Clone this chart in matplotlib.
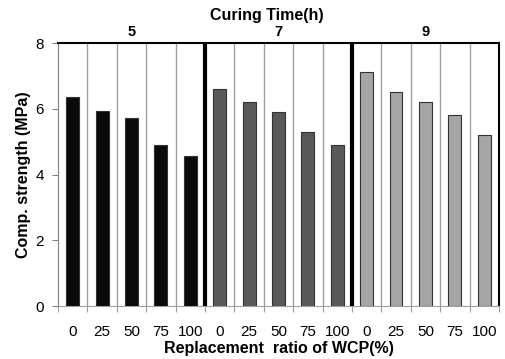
import matplotlib

matplotlib.use("Agg")
import matplotlib.pyplot as plt
import numpy as np

plt.rcParams["font.family"] = ["Liberation Sans", "DejaVu Sans"]

# Curing time groups (h) and replacement ratios of WCP (%)
CURING_TIMES = ["5", "7", "9"]
RATIOS = ["0", "25", "50", "75", "100"]
STRENGTH_5H = [6.37, 5.93, 5.71, 4.89, 4.56]
STRENGTH_7H = [6.60, 6.20, 5.90, 5.29, 4.89]
STRENGTH_9H = [7.11, 6.50, 6.20, 5.80, 5.20]
GROUP_COLORS = ["#0a0a0a", "#595959", "#a5a5a5"]


def build_plot():
    fig = plt.figure(figsize=(5.06, 3.59), dpi=100)
    ax = fig.add_axes([0.1146, 0.1476, 0.8714, 0.7326])

    groups = [STRENGTH_5H, STRENGTH_7H, STRENGTH_9H]
    n = len(RATIOS)
    for g, (vals, color) in enumerate(zip(groups, GROUP_COLORS)):
        x = np.arange(n) + g * n
        ax.bar(x, vals, width=0.44, color=color, edgecolor="#333333",
               linewidth=0.8, zorder=3)

    total = n * len(groups)
    ax.set_xlim(-0.5, total - 0.5)
    ax.set_ylim(0, 8)

    # gridlines at category boundaries, thick separators between groups
    for b in np.arange(0.5, total - 0.5):
        if int(b + 0.5) % n == 0:
            ax.axvline(b, color="black", linewidth=3, zorder=4)
        else:
            ax.axvline(b, color="#a0a0a0", linewidth=1, zorder=1)

    ax.set_xticks(np.arange(-0.5, total))
    ax.set_xticklabels([])
    ax.tick_params(axis="x", which="major", length=4, color="#a0a0a0", direction="out")
    ax.set_xticks(np.arange(total), minor=True)
    ax.set_xticklabels(RATIOS * len(groups), minor=True, fontsize=11)
    ax.tick_params(axis="x", which="minor", length=0, pad=14)

    ax.set_yticks([0, 2, 4, 6, 8])
    ax.tick_params(axis="y", length=4, color="#808080", labelsize=11, pad=6)

    ax.spines["left"].set_color("#808080")
    ax.spines["bottom"].set_color("#a0a0a0")
    ax.spines["top"].set_color("black")
    ax.spines["right"].set_color("black")
    ax.spines["top"].set_linewidth(1.5)
    ax.spines["right"].set_linewidth(1.5)

    for g, label in enumerate(CURING_TIMES):
        ax.text(g * n + (n - 1) / 2, 8.12, label, ha="center", va="bottom",
                fontsize=10.5, fontweight="bold")

    fig.text(0.527, 0.958, "Curing Time(h)", ha="center", va="center",
             fontsize=11.5, fontweight="bold")
    ax.set_xlabel("Replacement  ratio of WCP(%)", fontsize=11.5, fontweight="bold",
                  labelpad=1)
    ax.set_ylabel("Comp. strength (MPa)", fontsize=11.5, fontweight="bold", labelpad=3)

    fig.savefig("out.png", dpi=100)
    plt.close(fig)


if __name__ == "__main__":
    build_plot()
